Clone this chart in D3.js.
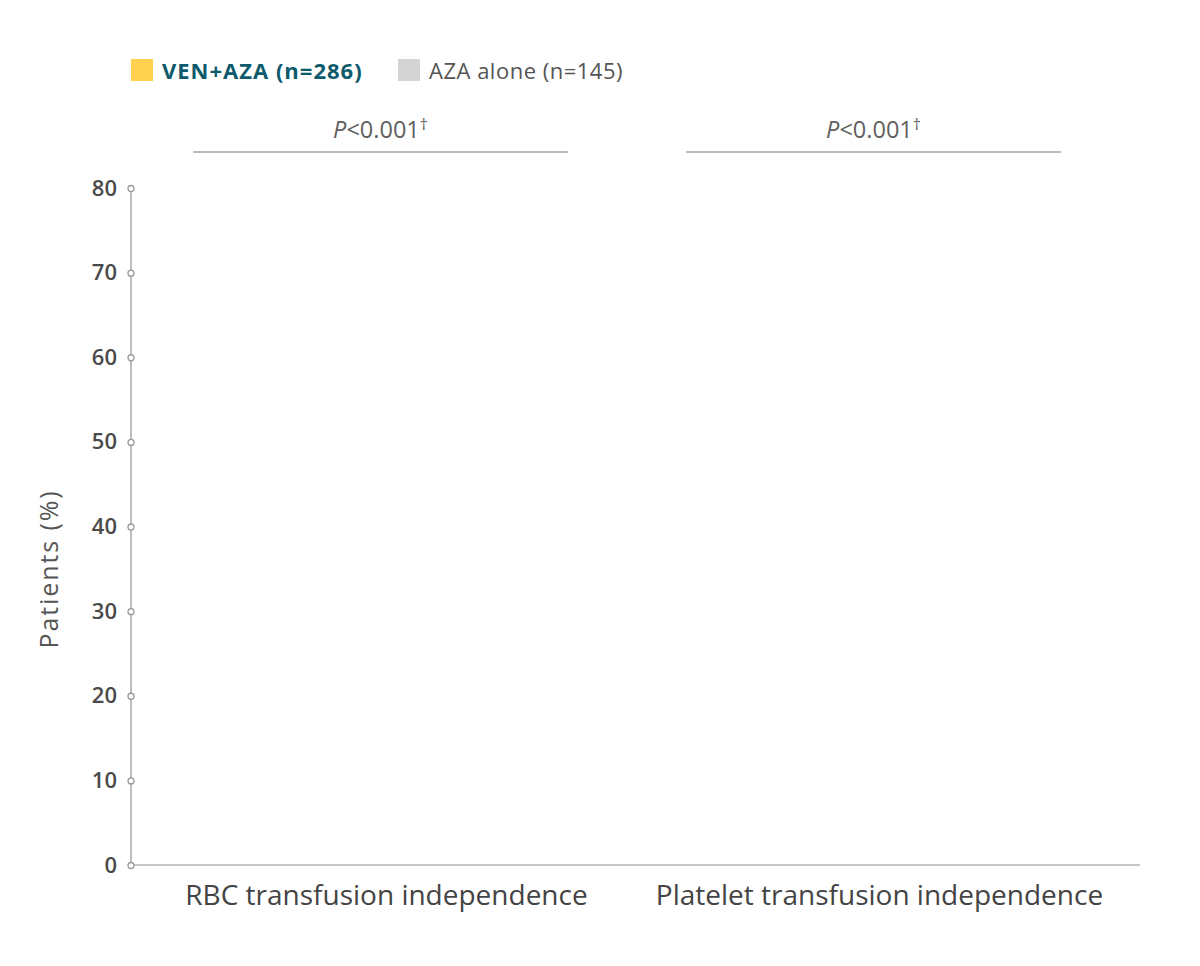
<!DOCTYPE html>
<html>
<head>
<meta charset="utf-8">
<script src="https://cdn.jsdelivr.net/npm/d3@7"></script>
<style>
  body { margin: 0; background: #fff; }
  text { font-family: "Open Sans", "Noto Sans", sans-serif; }
</style>
</head>
<body>
<div id="chart"></div>
<script>
const categories = ["RBC transfusion independence", "Platelet transfusion independence"];
const seriesNames = ["VEN+AZA (n=286)", "AZA alone (n=145)"];
const seriesColors = ["#ffd14f", "#d4d4d4"];
const pValues = ["<0.001", "<0.001"];
const yTicks = [0, 10, 20, 30, 40, 50, 60, 70, 80];

const svg = d3.select("#chart")
  .append("svg")
  .attr("width", 1200)
  .attr("height", 966);

const margin = { top: 188, right: 60, bottom: 101, left: 131 };

const xScale = d3.scaleBand()
  .domain(categories)
  .range([134, 1120])
  .padding(0);

const yScale = d3.scaleLinear()
  .domain([0, 80])
  .range([865, 188]);

// x axis baseline
svg.append("line")
  .attr("x1", 131).attr("x2", 1140)
  .attr("y1", yScale(0)).attr("y2", yScale(0))
  .attr("stroke", "#c4c6c6")
  .attr("stroke-width", 2);

// y axis
const yAxis = svg.append("g")
  .attr("transform", `translate(${margin.left},0)`)
  .call(d3.axisLeft(yScale).tickValues(yTicks).tickSize(0).tickPadding(14));

yAxis.select(".domain")
  .attr("stroke", "#a9a9a9")
  .attr("stroke-width", 1.5)
  .attr("d", `M0,${yScale(80) - 2}V${yScale(0)}`);

yAxis.selectAll(".tick text")
  .attr("font-size", 22)
  .attr("font-weight", 600)
  .attr("fill", "#4a4a4a");

yAxis.selectAll(".tick")
  .append("circle")
  .attr("r", 3)
  .attr("fill", "#fff")
  .attr("stroke", "#9a9a9a")
  .attr("stroke-width", 1.3);

// y axis title
svg.append("text")
  .attr("transform", "translate(58, 569) rotate(-90)")
  .attr("text-anchor", "middle")
  .attr("font-size", 25)
  .attr("letter-spacing", 1.9)
  .attr("font-weight", 500)
  .attr("fill", "#555")
  .text("Patients (%)");

// category labels
svg.append("g")
  .selectAll("text")
  .data(categories)
  .enter()
  .append("text")
  .attr("x", d => xScale(d) + xScale.bandwidth() / 2 + 6)
  .attr("y", 905)
  .attr("text-anchor", "middle")
  .attr("font-size", 28)
  .attr("font-weight", 500)
  .attr("fill", "#444")
  .text(d => d);

// p-value brackets
const pGroup = svg.append("g")
  .selectAll("g")
  .data(categories)
  .enter()
  .append("g");

pGroup.append("line")
  .attr("x1", d => xScale(d) + xScale.bandwidth() * 0.12)
  .attr("x2", d => xScale(d) + xScale.bandwidth() * 0.88)
  .attr("y1", 152).attr("y2", 152)
  .attr("stroke", "#b8b8b8")
  .attr("stroke-width", 2);

const pText = pGroup.append("text")
  .attr("x", d => xScale(d) + xScale.bandwidth() / 2)
  .attr("y", 138)
  .attr("text-anchor", "middle")
  .attr("font-size", 23.5)
  .attr("fill", "#5f5f5f");
pText.append("tspan").attr("font-style", "italic").text("P");
pText.append("tspan").text((d, i) => pValues[i]);
pText.append("tspan").attr("dy", -8).attr("font-size", 16).text("\u2020");

// legend
const legendX = [131, 398];
const legend = svg.append("g")
  .selectAll("g")
  .data(seriesNames)
  .enter()
  .append("g")
  .attr("transform", (d, i) => `translate(${legendX[i]}, 59)`);

legend.append("rect")
  .attr("width", 22).attr("height", 22)
  .attr("fill", (d, i) => seriesColors[i]);

legend.append("text")
  .attr("x", 31)
  .attr("y", 20)
  .attr("font-size", 22)
  .attr("letter-spacing", (d, i) => i === 0 ? 1 : 0.5)
  .attr("font-weight", (d, i) => i === 0 ? 700 : 400)
  .attr("fill", (d, i) => i === 0 ? "#0d5a6c" : "#555")
  .text(d => d);
</script>
</body>
</html>
